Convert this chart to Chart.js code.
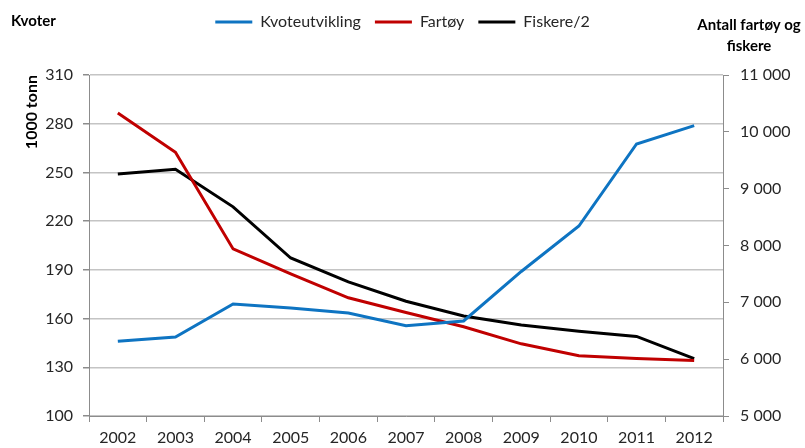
<!DOCTYPE html>
<html>
<head>
<meta charset="utf-8">
<script src="https://cdn.jsdelivr.net/npm/chart.js@4"></script>
<style>
  html, body { margin: 0; padding: 0; background: #fff; }
  #wrap { width: 805px; height: 448px; }
</style>
</head>
<body>
<div id="wrap"><canvas id="fishChart" width="805" height="448"></canvas></div>
<script>
// data
const years = ['2002', '2003', '2004', '2005', '2006', '2007', '2008', '2009', '2010', '2011', '2012'];
const kvoteutvikling = [146, 148.6, 169, 166.5, 163.4, 155.6, 158.5, 189, 217, 267.5, 278.8];
const fartoy = [10330, 9640, 7940, 7500, 7080, 6820, 6570, 6270, 6060, 6010, 5975];
const fiskereHalf = [9260, 9340, 8680, 7780, 7360, 7020, 6760, 6600, 6490, 6400, 6010];

const FONT = "Lato, 'Open Sans', 'DejaVu Sans', sans-serif";
const gridColor = '#c4c4c4';
const axisColor = '#8c8c8c';
const textColor = '#262626';

Chart.defaults.font.family = FONT;
Chart.defaults.color = textColor;

// titles above the two value axes
const axisTitles = {
    id: 'axisTitles',
    afterDraw(chart) {
        const ctx = chart.ctx;
        ctx.save();
        ctx.fillStyle = '#000';
        ctx.font = 'bold 15px ' + FONT;
        ctx.textBaseline = 'middle';
        ctx.textAlign = 'left';
        ctx.fillText('Kvoter', 11, 21);
        ctx.textAlign = 'center';
        ctx.fillText('Antall fartøy og', 749, 25);
        ctx.fillText('fiskere', 749, 46);
        ctx.restore();
    }
};

// fixed legend height so the plot starts where the reference does
const legendHeight = {
    id: 'legendHeight',
    beforeLayout(chart) {
        const lg = chart.legend;
        if (lg && !lg._patched) {
            const orig = lg.fit;
            lg.fit = function () {
                orig.call(this);
                this.height = 75;
            };
            lg._patched = true;
        }
    }
};

const ctx = document.getElementById('fishChart').getContext('2d');
new Chart(ctx, {
    type: 'line',
    data: {
        labels: years,
        datasets: [
            {
                label: 'Kvoteutvikling',
                data: kvoteutvikling,
                yAxisID: 'y',
                borderColor: '#0e74c2',
                backgroundColor: '#0e74c2',
                borderWidth: 3,
                pointRadius: 0,
                tension: 0
            },
            {
                label: 'Fartøy',
                data: fartoy,
                yAxisID: 'y2',
                borderColor: '#c00000',
                backgroundColor: '#c00000',
                borderWidth: 3,
                pointRadius: 0,
                tension: 0
            },
            {
                label: 'Fiskere/2',
                data: fiskereHalf,
                yAxisID: 'y2',
                borderColor: '#000000',
                backgroundColor: '#000000',
                borderWidth: 3,
                pointRadius: 0,
                tension: 0
            }
        ]
    },
    options: {
        responsive: false,
        animation: false,
        layout: { padding: { top: 0, left: 0, right: 0, bottom: 0 } },
        plugins: {
            legend: {
                position: 'top',
                labels: {
                    boxWidth: 37,
                    boxHeight: 3,
                    padding: 14,
                    color: textColor,
                    font: { size: 16 },
                    generateLabels(chart) {
                        const items = Chart.defaults.plugins.legend.labels.generateLabels(chart);
                        items.forEach(it => { it.lineWidth = 0; it.fillStyle = it.strokeStyle; });
                        return items;
                    }
                }
            },
            tooltip: { enabled: false }
        },
        scales: {
            x: {
                offset: true,
                grid: {
                    offset: true,
                    drawOnChartArea: false,
                    drawTicks: true,
                    tickLength: 6,
                    color: axisColor
                },
                border: { color: axisColor, width: 1 },
                ticks: { color: textColor, font: { size: 16 }, padding: 6, maxRotation: 0 },
                afterFit(scale) { scale.height = 32; }
            },
            y: {
                position: 'left',
                min: 100,
                max: 310,
                ticks: { stepSize: 30, color: textColor, font: { size: 16 }, padding: 10 },
                grid: { color: gridColor, lineWidth: 1.5, tickLength: 6, tickColor: axisColor },
                border: { color: axisColor, width: 1 },
                title: {
                    display: true,
                    text: '1000 tonn',
                    align: 'end',
                    color: '#000',
                    font: { size: 16, weight: 'bold' },
                    padding: { top: 22, bottom: 0 }
                },
                afterFit(scale) { scale.width = 89; }
            },
            y2: {
                position: 'right',
                min: 5000,
                max: 11000,
                ticks: {
                    stepSize: 1000,
                    color: textColor,
                    font: { size: 16 },
                    padding: 11,
                    callback: v => String(v).replace(/\B(?=(\d{3})+(?!\d))/g, ' ')
                },
                grid: { drawOnChartArea: false, tickLength: 6, color: axisColor },
                border: { color: axisColor, width: 1 },
                afterFit(scale) { scale.width = 82; }
            }
        }
    },
    plugins: [legendHeight, axisTitles]
});
</script>
</body>
</html>
